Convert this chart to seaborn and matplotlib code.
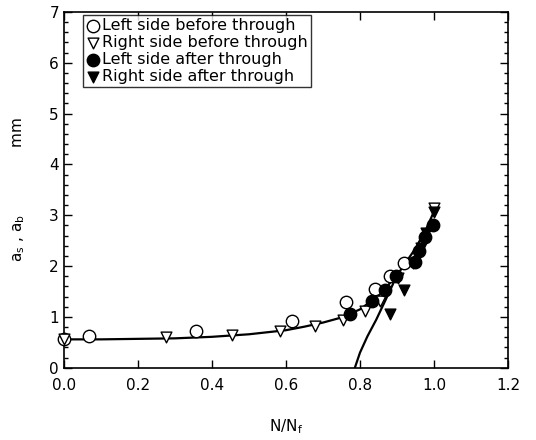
import matplotlib
matplotlib.use("Agg")
import matplotlib.pyplot as plt
import seaborn as sns
import pandas as pd
from matplotlib.ticker import MultipleLocator

# Data
left_before_x = [0.0, 0.068, 0.358, 0.615, 0.763, 0.840, 0.880, 0.920]
left_before_y = [0.56, 0.62, 0.72, 0.92, 1.29, 1.55, 1.81, 2.06]

right_before_x = [0.0, 0.277, 0.453, 0.583, 0.678, 0.755, 0.813, 0.853, 0.903, 1.0]
right_before_y = [0.56, 0.61, 0.65, 0.73, 0.82, 0.94, 1.11, 1.31, 1.77, 3.14]

left_after_x = [0.772, 0.833, 0.867, 0.898, 0.948, 0.959, 0.975, 0.997]
left_after_y = [1.05, 1.31, 1.54, 1.80, 2.09, 2.29, 2.58, 2.81]

right_after_x = [0.880, 0.920, 0.943, 0.966, 0.979, 1.0]
right_after_y = [1.05, 1.54, 2.06, 2.35, 2.65, 3.07]

fit1_x = [0.0, 0.1, 0.2, 0.3, 0.4, 0.5, 0.6, 0.65, 0.7, 0.75, 0.8, 0.85, 0.9, 0.95, 0.98, 1.0]
fit1_y = [0.56, 0.56, 0.57, 0.58, 0.61, 0.66, 0.74, 0.81, 0.89, 0.99, 1.15, 1.42, 1.82, 2.35, 2.75, 3.08]

fit2_x = [0.786, 0.80, 0.82, 0.844, 0.87, 0.90]
fit2_y = [0.0, 0.30, 0.62, 0.95, 1.35, 1.82]

legend_labels = ["Left side before through", "Right side before through",
                 "Left side after through", "Right side after through"]

sns.set_style("ticks")
plt.rcParams['font.family'] = ['DejaVu Sans']
plt.rcParams['text.color'] = 'black'
plt.rcParams['axes.labelcolor'] = 'black'
plt.rcParams['xtick.color'] = 'black'
plt.rcParams['ytick.color'] = 'black'

fig = plt.figure(figsize=(5.36, 4.40), dpi=100)
ax = fig.add_axes([0.119, 0.164, 0.829, 0.809])

sns.lineplot(x=fit1_x, y=fit1_y, ax=ax, color="black", lw=1.6, sort=False, legend=False)
sns.lineplot(x=fit2_x, y=fit2_y, ax=ax, color="black", lw=1.6, sort=False, legend=False)

cs = 80
ts = 60
kw = dict(linewidth=1.0, clip_on=False)
sns.scatterplot(x=left_before_x, y=left_before_y, ax=ax, marker="o", s=cs,
                facecolor="white", edgecolor="black", label=legend_labels[0], zorder=3, **kw)
sns.scatterplot(x=right_before_x, y=right_before_y, ax=ax, marker="v", s=ts,
                facecolor="white", edgecolor="black", label=legend_labels[1], zorder=3, **kw)
sns.scatterplot(x=left_after_x, y=left_after_y, ax=ax, marker="o", s=cs,
                facecolor="black", edgecolor="black", label=legend_labels[2], zorder=4, **kw)
sns.scatterplot(x=right_after_x, y=right_after_y, ax=ax, marker="v", s=ts,
                facecolor="black", edgecolor="black", label=legend_labels[3], zorder=4, **kw)

ax.set_xlim(0, 1.2)
ax.set_ylim(0, 7)
ax.xaxis.set_major_locator(MultipleLocator(0.2))
ax.yaxis.set_major_locator(MultipleLocator(1))
ax.yaxis.set_minor_locator(MultipleLocator(0.2))
ax.xaxis.set_major_formatter(matplotlib.ticker.FormatStrFormatter('%.1f'))
ax.tick_params(which="both", direction="in", top=True, right=True, labelsize=11, width=1.0)
ax.tick_params(which="major", length=6)
ax.tick_params(which="minor", length=3)
ax.tick_params(axis="x", pad=7)
for sp in ax.spines.values():
    sp.set_linewidth(1.2)
    sp.set_color("black")

ax.set_xlabel("N/N$_\\mathregular{f}$", fontsize=11, labelpad=18)
ax.set_ylabel("a$_\\mathregular{s}$ , a$_\\mathregular{b}$              mm", fontsize=11, labelpad=16)

leg = ax.legend(loc="upper left", bbox_to_anchor=(0.035, 1.0), frameon=True, fancybox=False,
                edgecolor="black", fontsize=11.5, handletextpad=0.1, borderpad=0.2,
                labelspacing=0.12, handlelength=0.9, borderaxespad=0.2)
leg.get_frame().set_linewidth(1.0)

fig.savefig("out.png", dpi=100)
